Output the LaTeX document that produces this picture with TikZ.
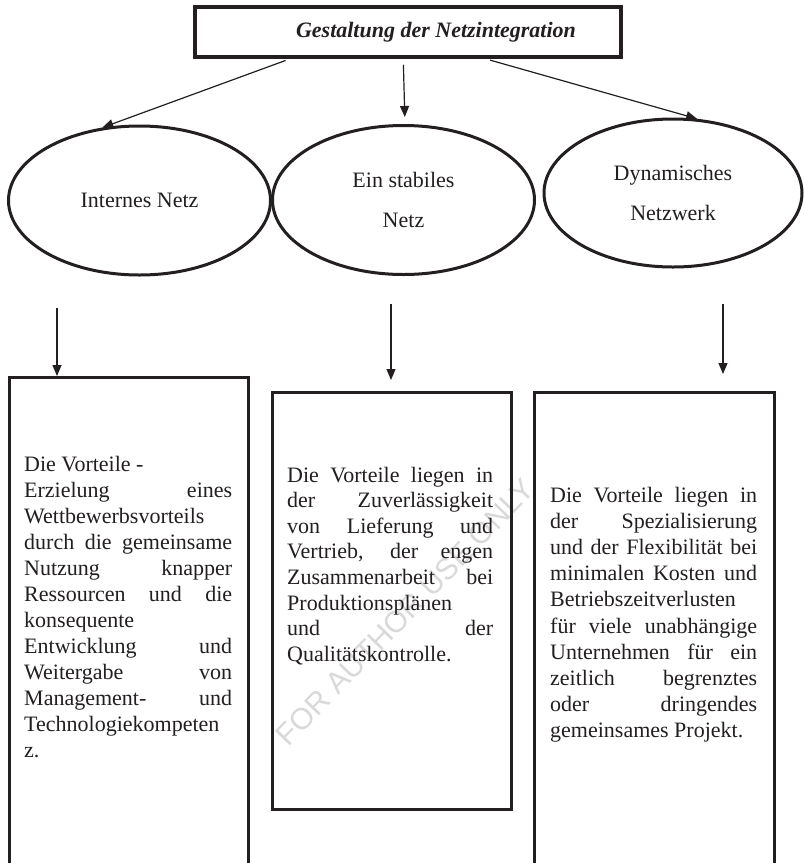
\documentclass[tikz,border=0pt]{standalone}
\usepackage{fontspec}
\setmainfont{Liberation Serif}
\newfontfamily\wmfont{Liberation Sans}
\usetikzlibrary{shapes.geometric,arrows.meta}
\definecolor{ink}{HTML}{231F20}
% one justified line of a text column
\newcommand\Jl[1]{\makebox[\linewidth][s]{#1}}

\begin{document}
\begin{tikzpicture}[x=1pt,y=-1pt,
  frame/.style={draw=ink, line width=3pt, inner sep=0pt},
  oval/.style={draw=ink, line width=3pt, ellipse, inner sep=0pt,
    minimum width=262pt, minimum height=149pt, align=center,
    font=\fontsize{22}{40}\selectfont, text=ink},
  arr/.style={draw=ink, line width=1.2pt, -{Triangle[length=11pt,width=9pt]}},
  body/.style={anchor=base west, inner sep=0pt, text=ink}
]
\useasboundingbox (0,0) rectangle (804,863);
\fill[white] (0,0) rectangle (804,863);
\clip (0,0) rectangle (804,863);

% faint diagonal stamp behind the middle column
\node[rotate=46, text=gray!30, font=\wmfont\fontsize{30}{30}\selectfont] (wm) at (405,612) {FOR AUTHOR USE ONLY};

% heading
\node[frame, line width=3.5pt, minimum width=426pt, minimum height=50pt,
      font=\fontsize{22}{26}\selectfont\bfseries\itshape, text=ink] (title) at (408,32)
      {\hspace*{56pt}Gestaltung der Netzintegration};

% the three kinds of network
\node[oval] (e1) at (139.5,200.5) {Internes Netz};
\node[oval] (e2) at (403.5,200) {Ein stabiles\\Netz};
\node[oval, minimum width=258pt, minimum height=148pt] (e3) at (673,193) {Dynamisches\\Netzwerk};

% heading to networks
\draw[arr, shorten <=5pt] ([xshift=97pt]title.south west) -- (e1.117);
\draw[arr, shorten <=6pt, shorten >=7pt] ([xshift=210pt]title.south west) -- ([xshift=1.5pt]e2.north);
\draw[arr, shorten <=5pt] ([xshift=292pt]title.south west) -- (e3.72);

% description boxes
\node[frame, minimum width=239pt, minimum height=510pt, anchor=north west] (b1) at (8,376) {};
\node[frame, minimum width=239pt, minimum height=417pt, anchor=north west] (b2) at (271,391) {};
\node[frame, minimum width=240pt, minimum height=495pt, anchor=north west] (b3) at (533,391) {};

% networks to boxes
\coordinate (d1) at (57,308);
\coordinate (d2) at (391,304);
\coordinate (d3) at (723,304);
\draw[arr] (d1) -- (d1 |- b1.north);
\draw[arr, shorten >=11pt] (d2) -- (d2 |- b2.north);
\draw[arr, shorten >=17pt] (d3) -- (d3 |- b3.north);

% box texts
\node[body] (t1) at (24,471.7) {\parbox[t]{208pt}{\fontsize{22}{26}\selectfont
Die Vorteile -\\
\Jl{Erzielung eines}\\
Wettbewerbsvorteils\\
\Jl{durch die gemeinsame}\\
\Jl{Nutzung knapper}\\
\Jl{Ressourcen und die}\\
konsequente\\
\Jl{Entwicklung und}\\
\Jl{Weitergabe von}\\
\Jl{Management- und}\\
Technologiekompeten\\
z.}};

\node[body] (t2) at (287,482) {\parbox[t]{206pt}{\fontsize{22}{25.6}\selectfont
\Jl{Die Vorteile liegen in}\\
\Jl{der Zuverlässigkeit}\\
\Jl{von Lieferung und}\\
\Jl{Vertrieb, der engen}\\
\Jl{Zusammenarbeit bei}\\
Produktionsplänen\\
\Jl{und der}\\
Qualitätskontrolle.}};

\node[body] (t3) at (550,502) {\parbox[t]{207pt}{\fontsize{22}{26.2}\selectfont
\Jl{Die Vorteile liegen in}\\
\Jl{der Spezialisierung}\\
\Jl{und der Flexibilität bei}\\
\Jl{minimalen Kosten und}\\
Betriebszeitverlusten\\
\Jl{für viele unabhängige}\\
\Jl{Unternehmen für ein}\\
\Jl{zeitlich begrenztes}\\
\Jl{oder dringendes}\\
gemeinsames Projekt.}};
\end{tikzpicture}
\end{document}
